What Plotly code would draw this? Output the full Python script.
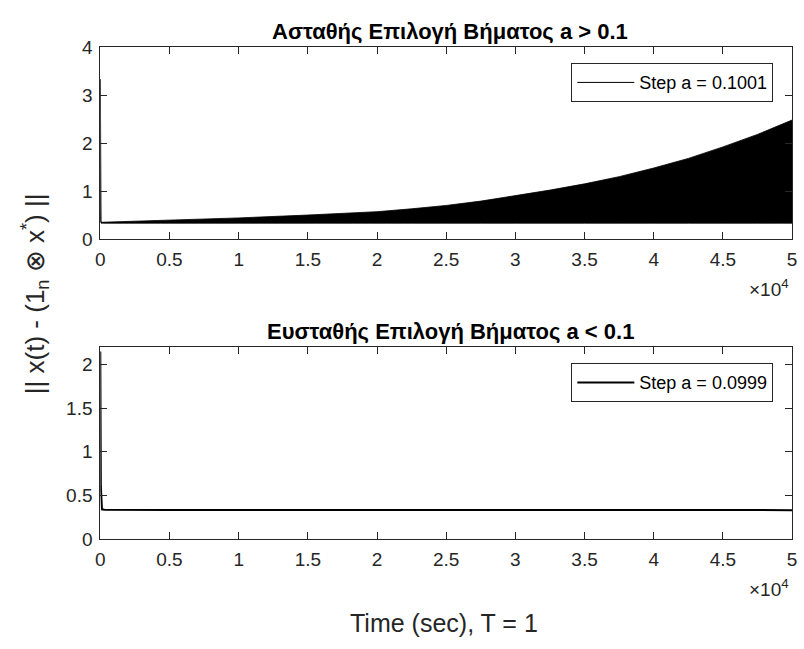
import plotly.graph_objects as go

# Top panel (a = 0.1001): envelope of the oscillating norm
t_top = [0, 60, 150, 5000, 10000, 15000, 20000, 22500, 25000, 27500, 30000, 32500, 35000,
         37500, 40000, 42500, 45000, 47500, 50000]
upper_top = [3.33, 0.36, 0.35, 0.39, 0.44, 0.50, 0.57, 0.63, 0.70, 0.79, 0.90, 1.02, 1.15,
             1.30, 1.48, 1.68, 1.92, 2.18, 2.48]
lower_top = [3.33, 0.33, 0.33, 0.33, 0.33, 0.33, 0.33, 0.33, 0.33, 0.33, 0.33, 0.33, 0.33,
             0.33, 0.33, 0.33, 0.33, 0.33, 0.33]

# Bottom panel (a = 0.0999)
t_bot = [0, 40, 120, 300, 5000, 10000, 20000, 30000, 40000, 50000]
y_bot = [2.15, 0.60, 0.34, 0.335, 0.333, 0.332, 0.331, 0.331, 0.331, 0.331]

x_tickvals = [0, 5000, 10000, 15000, 20000, 25000, 30000, 35000, 40000, 45000, 50000]
x_ticktext = ["0", "0.5", "1", "1.5", "2", "2.5", "3", "3.5", "4", "4.5", "5"]
top_yticks = [0, 1, 2, 3, 4]
bot_yticks = [0, 0.5, 1, 1.5, 2]

FONT = "Liberation Sans, Arial, Helvetica, sans-serif"
AX = "#262626"

fig = go.Figure()
fig.add_trace(go.Scatter(x=t_top, y=lower_top, mode="lines", line=dict(color="black", width=0.8, shape="spline"),
                         showlegend=False, xaxis="x", yaxis="y", hoverinfo="skip"))
fig.add_trace(go.Scatter(x=t_top, y=upper_top, mode="lines", line=dict(color="black", width=0.8),
                         fill="tonexty", fillcolor="black", showlegend=False,
                         xaxis="x", yaxis="y"))
# legend entry (thin line) for the top panel
fig.add_trace(go.Scatter(x=[None], y=[None], mode="lines", line=dict(color="black", width=1),
                         name="Step a = 0.1001", legend="legend", xaxis="x", yaxis="y"))
fig.add_trace(go.Scatter(x=t_bot, y=y_bot, mode="lines", line=dict(color="black", width=2),
                         name="Step a = 0.0999", legend="legend2", xaxis="x2", yaxis="y2"))

axcommon = dict(showgrid=False, zeroline=False, showline=True, linecolor=AX, linewidth=1,
                mirror="ticks", ticks="inside", ticklen=7, tickcolor=AX, ticklabelstandoff=3,
                tickfont=dict(family=FONT, size=19, color=AX))

legcommon = dict(xanchor="right", yanchor="top", bgcolor="white", bordercolor=AX, borderwidth=1,
                 itemwidth=57, font=dict(family=FONT, size=18, color="black"))

XDOM = [96.5 / 804, 797 / 804]

fig.update_layout(
    width=804, height=649,
    margin=dict(l=0, r=0, t=0, b=0),
    paper_bgcolor="white", plot_bgcolor="white",
    font=dict(family=FONT, color=AX),
    xaxis=dict(domain=XDOM, range=[0, 50000], tickvals=x_tickvals, ticktext=x_ticktext,
               anchor="y", **axcommon),
    yaxis=dict(domain=[1 - 236.7 / 649, 1 - 38.3 / 649], range=[0, 4], tickvals=top_yticks, anchor="x", **axcommon),
    xaxis2=dict(domain=XDOM, range=[0, 50000], tickvals=x_tickvals, ticktext=x_ticktext,
                anchor="y2", **axcommon),
    yaxis2=dict(domain=[1 - 546.7 / 649, 1 - 348.3 / 649], range=[0, 2.2], tickvals=bot_yticks, anchor="x2", **axcommon),
    legend=dict(x=778 / 804, y=1 - 55 / 649, **legcommon),
    legend2=dict(x=778 / 804, y=1 - 365 / 649, **legcommon),
    showlegend=True,
)

ann = [
    dict(text="<b>Ασταθής Επιλογή Βήματος a > 0.1</b>", x=451 / 804, y=1 - 22 / 649, size=22, color="black"),
    dict(text="<b>Ευσταθής Επιλογή Βήματος a < 0.1</b>", x=451 / 804, y=1 - 332 / 649, size=22, color="black"),
    dict(text="×10<sup>4</sup>", x=774 / 804, y=1 - 287 / 649, size=19, color=AX),
    dict(text="×10<sup>4</sup>", x=774 / 804, y=1 - 597 / 649, size=19, color=AX),
    dict(text="Time (sec), T = 1", x=445 / 804, y=1 - 634 / 649, size=25, color=AX),
]
for a in ann:
    fig.add_annotation(xref="paper", yref="paper", showarrow=False, xanchor="center", yanchor="middle",
                       text=a["text"], x=a["x"], y=a["y"],
                       font=dict(family=FONT, size=a["size"], color=a["color"]))

fig.add_annotation(xref="paper", yref="paper", showarrow=False, xanchor="center", yanchor="middle",
                   text="|| x(t) - (1<sub>n</sub> ⊗ x<sup>*</sup>) ||", x=30 / 804, y=1 - 293 / 649,
                   textangle=-90, font=dict(family=FONT, size=26, color=AX))

fig.write_html("out.html")
